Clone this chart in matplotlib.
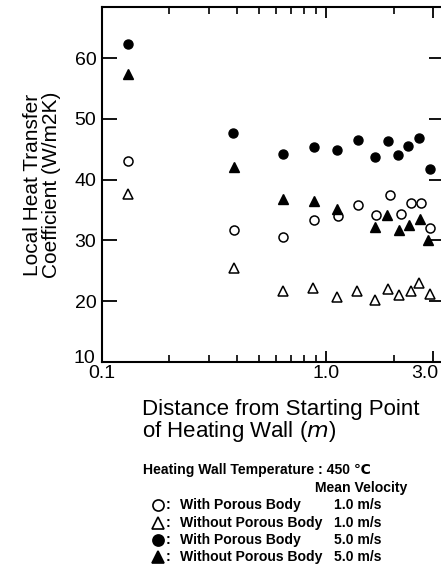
import matplotlib
matplotlib.use("Agg")
import matplotlib.pyplot as plt
from matplotlib.lines import Line2D
from matplotlib.ticker import FixedLocator, NullFormatter
from matplotlib.transforms import ScaledTranslation

plt.rcParams["font.family"] = ["Liberation Sans", "DejaVu Sans"]

# with porous body, 1.0 m/s (open circles)
x_oc = [0.131, 0.39, 0.64, 0.88, 1.13, 1.39, 1.67, 1.92, 2.16, 2.38, 2.66, 2.90]
y_oc = [43.1, 31.7, 30.6, 33.4, 34.0, 35.8, 34.2, 37.5, 34.3, 36.1, 36.1, 32.0]
# without porous body, 1.0 m/s (open triangles)
x_ot = [0.131, 0.39, 0.64, 0.87, 1.12, 1.37, 1.65, 1.88, 2.12, 2.38, 2.61, 2.90]
y_ot = [37.6, 25.5, 21.6, 22.2, 20.7, 21.7, 20.2, 22.0, 21.0, 21.7, 23.0, 21.2]
# with porous body, 5.0 m/s (filled circles)
x_fc = [0.131, 0.386, 0.641, 0.883, 1.12, 1.39, 1.66, 1.88, 2.10, 2.33, 2.59, 2.90]
y_fc = [62.3, 47.7, 44.2, 45.4, 44.9, 46.5, 43.7, 46.3, 44.0, 45.5, 46.8, 41.7]
# without porous body, 5.0 m/s (filled triangles)
x_ft = [0.131, 0.39, 0.64, 0.88, 1.12, 1.65, 1.86, 2.12, 2.35, 2.63, 2.86]
y_ft = [57.4, 42.1, 36.8, 36.5, 35.2, 32.2, 34.2, 31.7, 32.5, 33.5, 30.1]

y_ticks = [10, 20, 30, 40, 50, 60]
x_major = [0.1, 1.0, 3.0]
x_major_labels = ["0.1", "1.0", "3.0"]
x_minor = [0.2, 0.3, 0.4, 0.5, 0.6, 0.7, 0.8, 0.9, 2.0]

legend_rows = [
    ("o", "none", "With Porous Body", "1.0 m/s"),
    ("^", "none", "Without Porous Body", "1.0 m/s"),
    ("o", "black", "With Porous Body", "5.0 m/s"),
    ("^", "black", "Without Porous Body", "5.0 m/s"),
]

fig = plt.figure(figsize=(4.41, 5.68), dpi=100)
ax = fig.add_axes([0.2313, 0.3627, 0.775, 0.625])

ms = 6.5
ax.plot(x_oc, y_oc, "o", ms=ms, mfc="white", mec="black", mew=1.1, ls="none")
ax.plot(x_ot, y_ot, "^", ms=ms + 0.5, mfc="white", mec="black", mew=1.1, ls="none")
ax.plot(x_fc, y_fc, "o", ms=ms, mfc="black", mec="black", ls="none")
ax.plot(x_ft, y_ft, "^", ms=ms + 0.5, mfc="black", mec="black", ls="none")

ax.set_xscale("log")
ax.set_xlim(0.1, 3.35)
ax.set_ylim(10, 68.4)

ax.xaxis.set_major_locator(FixedLocator(x_major))
ax.set_xticklabels(x_major_labels)
ax.xaxis.set_minor_locator(FixedLocator(x_minor))
ax.xaxis.set_minor_formatter(NullFormatter())
ax.set_yticks(y_ticks)

for s in ax.spines.values():
    s.set_linewidth(1.5)

ax.tick_params(axis="both", which="major", direction="in", width=1.3,
               labelsize=14, top=True, right=True)
ax.tick_params(axis="y", which="major", length=11, pad=4)
ax.tick_params(axis="x", which="major", length=8, pad=2.5)
ax.tick_params(axis="x", which="minor", direction="in", length=5, width=1.2,
               top=True)

# nudge the last x label left so it stays inside the page, as in the scan
last = ax.get_xticklabels()[-1]
last.set_transform(last.get_transform()
                   + ScaledTranslation(-6 / 72, 0, fig.dpi_scale_trans))
# lift the bottom y label a little so it clears "0.1"
first = ax.get_yticklabels()[0]
first.set_transform(first.get_transform()
                    + ScaledTranslation(-1 / 72, 4 / 72, fig.dpi_scale_trans))

ax.set_ylabel("Local Heat Transfer\nCoefficient (W/m2K)", fontsize=15,
              linespacing=1.0, labelpad=9)

fig.text(142 / 441, 1 - 410 / 568, "Distance from Starting Point",
         fontsize=16, ha="left", va="center")
fig.text(142 / 441, 1 - 432 / 568, "of Heating Wall ($\\it{m}$)",
         fontsize=16, ha="left", va="center")

fs = 10.1
fig.text(143 / 441, 1 - 470 / 568, "Heating Wall Temperature : 450 \u2103",
         fontsize=fs, weight="bold", ha="left", va="center")
fig.text(407 / 441, 1 - 488 / 568, "Mean Velocity",
         fontsize=fs, weight="bold", ha="right", va="center")

row_y = [505, 523, 540, 557]
for (mk, fc, label, vel), py in zip(legend_rows, row_y):
    yf = 1 - py / 568
    fig.add_artist(Line2D([158 / 441], [yf], marker=mk, ms=8,
                          mfc="white" if fc == "none" else fc,
                          mec="black", mew=1.2, ls="none",
                          transform=fig.transFigure))
    fig.text(166 / 441, yf, ":", fontsize=fs, weight="bold",
             ha="left", va="center")
    fig.text(180 / 441, yf, label, fontsize=fs, weight="bold",
             ha="left", va="center")
    fig.text(334 / 441, yf, vel, fontsize=fs, weight="bold",
             ha="left", va="center")

fig.savefig("out.png", dpi=100)
